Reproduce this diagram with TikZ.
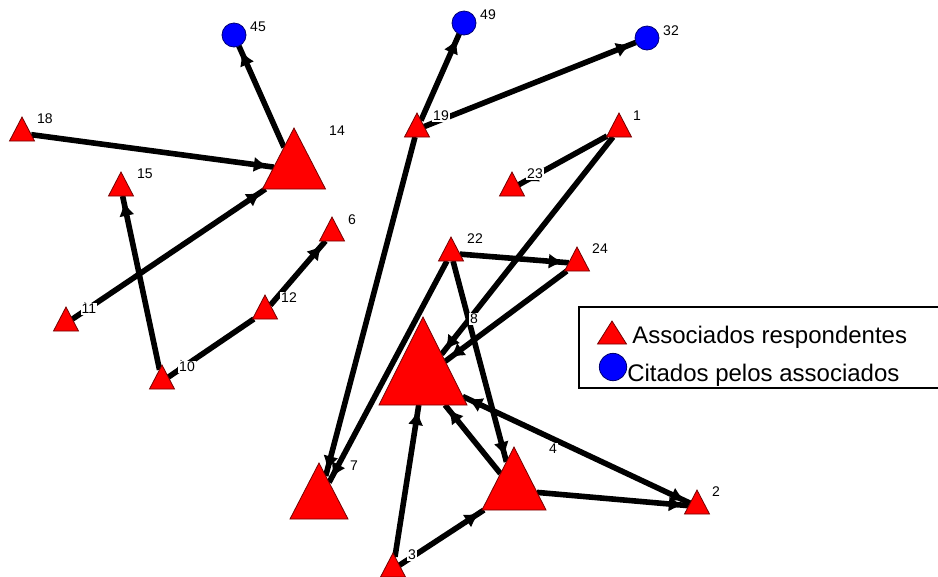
\documentclass[tikz,border=0pt]{standalone}
\usepackage{fontspec}
\setmainfont{Liberation Sans}
\usetikzlibrary{shapes.geometric,arrows.meta,decorations.markings,backgrounds}
\begin{document}
\begin{tikzpicture}[x=0.75pt,y=-0.75pt,
  tri/.style 2 args={isosceles triangle, isosceles triangle stretches, shape border rotate=90,
    minimum width=#1, minimum height=#2, inner sep=0pt, outer sep=0pt,
    fill=red, draw=red!45!black, line width=0.6pt, anchor=apex},
  smalltri/.style={tri={18.75pt}{18pt}},
  cir/.style={circle, minimum size=18pt, inner sep=0pt, outer sep=0pt, fill=blue, draw=blue!45!black, line width=0.6pt},
  lab/.style={font=\fontsize{10.5}{12}\selectfont, fill=white, inner sep=0.6pt},
  edge/.style={line width=4.2pt, postaction={decorate},
    decoration={markings, mark=at position -4pt with {\arrow{Latex[length=11pt,width=11.5pt]}}}},
  edgeboth/.style={line width=4.2pt, postaction={decorate},
    decoration={markings, mark=at position -4pt with {\arrow{Latex[length=11pt,width=11.5pt]}},
      mark=at position 4pt with {\arrowreversed{Latex[length=11pt,width=11.5pt]}}}},
  legtext/.style={font=\fontsize{18}{21}\selectfont, inner sep=0pt, anchor=base west}
]
\useasboundingbox (0,0) rectangle (938,576);

% respondent nodes (triangles), placed by apex
\node[smalltri] (t18) at (22,117) {};
\node[tri={47.25pt}{45.75pt}] (t14) at (294,128) {};
\node[smalltri] (t15) at (121,172) {};
\node[smalltri] (t11) at (66,307) {};
\node[smalltri] (t12) at (265,295) {};
\node[smalltri] (t10) at (162,365) {};
\node[smalltri] (t6) at (332,217) {};
\node[smalltri] (t19) at (417,113) {};
\node[smalltri] (t1) at (619,113) {};
\node[smalltri] (t23) at (512,172) {};
\node[smalltri] (t22) at (451,237) {};
\node[smalltri] (t24) at (577,247) {};
\node[tri={66pt}{66pt}] (t8) at (423,317) {};
\node[tri={43.5pt}{42pt}] (t7) at (319,463) {};
\node[tri={48pt}{47.25pt}] (t4) at (514,447) {};
\node[smalltri] (t2) at (697,490) {};
\node[smalltri] (t3) at (393,553) {};

% cited nodes (circles)
\node[cir] (c45) at (234,35) {};
\node[cir] (c49) at (464,23) {};
\node[cir] (c32) at (647,38) {};

\begin{pgfonlayer}{background}
\fill[white] (0,0) rectangle (938,576);
\draw[edge] (t14) -- (c45);
\draw[edge] (t18) -- (t14);
\draw[edgeboth] (t11) -- (t14);
\draw[edge] (t10) -- (t15);
\draw[edge] (t12) -- (t10);
\draw[edge] (t12) -- (t6);
\draw[edge] (t19) -- (c49);
\draw[edge] (t19) -- (c32);
\draw[edge] (t19) -- (t7);
\draw[edge] (t1) -- (t23);
\draw[edge] (t1) -- (t8);
\draw[edge] (t22) -- (t24);
\draw[edge] (t24) -- (t8);
\draw[edge] (t22) -- (t7);
\draw[edge] (t22) -- (t4);
\draw[edgeboth] (t8) -- (t2);
\draw[edge] (t4) -- (t2);
\draw[edge] (t4) -- (t8);
\draw[edge] (t3) -- (t8);
\draw[edge] (t3) -- (t4);
\end{pgfonlayer}

% labels
\node[lab] (l45) at (258,27) {45};
\node[lab] (l49) at (488,15) {49};
\node[lab] (l32) at (671,31) {32};
\node[lab] (l18) at (45,119) {18};
\node[lab] (l14) at (337,131) {14};
\node[lab] (l15) at (145,174) {15};
\node[lab] (l19) at (441,116) {19};
\node[lab] (l1) at (637,116) {1};
\node[lab] (l23) at (535,174) {23};
\node[lab] (l6) at (352,220) {6};
\node[lab] (l11) at (89,309) {11};
\node[lab] (l12) at (289,298) {12};
\node[lab] (l10) at (187,367) {10};
\node[lab] (l22) at (475,239) {22};
\node[lab] (l24) at (600,249) {24};
\node[lab] (l8) at (474,319) {8};
\node[lab] (l7) at (354,466) {7};
\node[lab] (l4) at (553,449) {4};
\node[lab] (l2) at (716,492) {2};
\node[lab] (l3) at (412,555) {3};

% legend
\draw[line width=1.1pt, fill=white] (579,307) rectangle (960,388);
\node[tri={21.75pt}{17.25pt}] (lt) at (612,321) {};
\node[legtext] (la) at (632,343) {Associados respondentes};
\node[cir, minimum size=20.5pt] (lc) at (613,367) {};
\node[legtext] (lb) at (627,381) {Citados pelos associados};
\end{tikzpicture}
\end{document}
